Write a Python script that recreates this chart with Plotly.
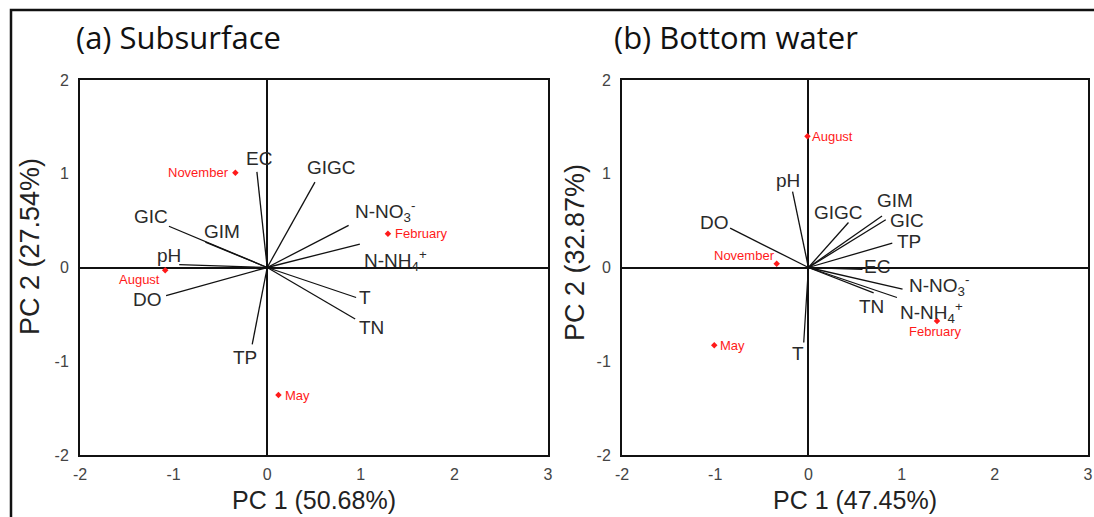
import plotly.graph_objects as go

# ---------------- data ----------------
# (a) Subsurface: loadings of variables
vars_a = ["EC", "GIC", "GIM", "pH", "DO", "GIGC", "N-NO<sub>3</sub><sup>-</sup>",
          "N-NH<sub>4</sub><sup>+</sup>", "T", "TN", "TP"]
pc1_a = [-0.11, -1.05, -0.66, -0.94, -1.08, 0.51, 0.87, 0.99, 0.95, 0.94, -0.16]
pc2_a = [1.02, 0.44, 0.27, 0.03, -0.30, 0.91, 0.45, 0.25, -0.32, -0.55, -0.82]

# (a) sample scores
months_a = ["November", "February", "August", "May"]
s1_a = [-0.34, 1.29, -1.09, 0.12]
s2_a = [1.01, 0.36, -0.03, -1.36]

# (b) Bottom water: loadings of variables
vars_b = ["pH", "DO", "GIGC", "GIM", "GIC", "TP", "EC", "N-NO<sub>3</sub><sup>-</sup>",
          "N-NH<sub>4</sub><sup>+</sup>", "TN", "T"]
pc1_b = [-0.17, -0.84, 0.43, 0.79, 0.83, 0.90, 0.58, 1.01, 0.95, 0.70, -0.05]
pc2_b = [0.81, 0.42, 0.48, 0.55, 0.51, 0.26, -0.02, -0.23, -0.32, -0.27, -0.80]

# (b) sample scores
months_b = ["August", "November", "May", "February"]
s1_b = [-0.01, -0.34, -1.01, 1.38]
s2_b = [1.40, 0.04, -0.83, -0.57]

x_ticks = [-2, -1, 0, 1, 2, 3]
x_ticklabels = ["-2", "-1", "0", "1", "2", "3"]
y_ticks = [-2, -1, 0, 1, 2]
y_ticklabels = ["-2", "-1", "0", "1", "2"]
titles = ["(a) Subsurface", "(b) Bottom water"]
x_titles = ["PC 1 (50.68%)", "PC 1 (47.45%)"]
y_titles = ["PC 2 (27.54%)", "PC 2 (32.87%)"]

# ---------------- label placement (pixel shifts) ----------------
var_shift_a = [(2, 13), (-18, 10), (17, 11), (-10, 9), (-19, -4), (17, 15),
               (36, 14), (36, -16), (9, 0), (16, -8), (-7, -13)]
var_shift_b = [(-5, 11), (-16, 6), (-10, 10), (13, 15), (21, -1), (17, 2),
               (15, 3), (36, 4), (35, -15), (-2, -14), (-6, -11)]
# (xanchor, xshift, yshift)
smp_shift_a = [("right", -4, 0), ("left", 5, 0), ("center", -26, -9), ("left", 5, 0)]
smp_shift_b = [("left", 3, 0), ("right", 0, 8), ("left", 4, 0), ("center", -2, -11)]

LABEL_FONT = "Liberation Sans, Arial, sans-serif"
RED = "#ff1a1a"
W, H = 1094, 517

fig = go.Figure()
annotations = []

panels = [
    ("x", "y", vars_a, pc1_a, pc2_a, months_a, s1_a, s2_a, var_shift_a, smp_shift_a),
    ("x2", "y2", vars_b, pc1_b, pc2_b, months_b, s1_b, s2_b, var_shift_b, smp_shift_b),
]

for xr, yr, vn, v1, v2, mn, m1, m2, vsh, msh in panels:
    lx, ly = [], []
    for a, b in zip(v1, v2):
        lx += [0, a, None]
        ly += [0, b, None]
    fig.add_trace(go.Scatter(x=lx, y=ly, mode="lines", xaxis=xr, yaxis=yr,
                             line=dict(color="#111111", width=1.3),
                             hoverinfo="skip", showlegend=False))
    fig.add_trace(go.Scatter(x=m1, y=m2, mode="markers", xaxis=xr, yaxis=yr,
                             marker=dict(color=RED, size=5, symbol="diamond"),
                             showlegend=False))
    for name, a, b, (dx, dy) in zip(vn, v1, v2, vsh):
        annotations.append(dict(x=a, y=b, xref=xr, yref=yr, text=name, showarrow=False,
                                xshift=dx, yshift=dy,
                                font=dict(family=LABEL_FONT, size=19, color="#2a2a2a")))
    for name, a, b, (anc, dx, dy) in zip(mn, m1, m2, msh):
        annotations.append(dict(x=a, y=b, xref=xr, yref=yr, text=name, showarrow=False,
                                xanchor=anc, xshift=dx, yshift=dy,
                                font=dict(family=LABEL_FONT, size=13, color=RED)))

dom_x = [[80 / W, 548 / W], [622 / W, 1088 / W]]
dom_y = [1 - 455 / H, 1 - 80 / H]

# panel titles
for t, tx in zip(titles, [74, 612]):
    annotations.append(dict(x=tx / W, y=1 - 37 / H, xref="paper", yref="paper",
                            text=t, showarrow=False, xanchor="left", yanchor="middle",
                            font=dict(family="Open Sans, Noto Sans, sans-serif", size=31,
                                      color="#111111")))
# axis titles
for t, cx in zip(x_titles, [314, 855]):
    annotations.append(dict(x=cx / W, y=1 - 500 / H, xref="paper", yref="paper",
                            text=t, showarrow=False, xanchor="center", yanchor="middle",
                            font=dict(family=LABEL_FONT, size=25, color="#222222")))
for t, cx, cy in zip(y_titles, [30, 575], [247, 253]):
    annotations.append(dict(x=cx / W, y=1 - cy / H, xref="paper", yref="paper",
                            text=t, showarrow=False, xanchor="center", yanchor="middle",
                            textangle=-90,
                            font=dict(family=LABEL_FONT, size=27, color="#222222")))

axis_common = dict(showgrid=False, zeroline=True, zerolinecolor="#111111", zerolinewidth=1.5,
                   showline=True, linecolor="#111111", linewidth=2, mirror=True,
                   ticks="", automargin=False,
                   tickfont=dict(family=LABEL_FONT, size=16, color="#444444"))

layout = dict(width=W, height=H, margin=dict(l=0, r=0, t=0, b=0, pad=0, autoexpand=False),
              paper_bgcolor="white", plot_bgcolor="white", annotations=annotations,
              showlegend=False,
              shapes=[dict(type="rect", xref="paper", yref="paper",
                           x0=11 / W, x1=1.2, y0=-0.2, y1=1 - 10 / H,
                           line=dict(color="#111111", width=2.5))])

for i in range(2):
    sx = "" if i == 0 else "2"
    layout["xaxis" + sx] = dict(axis_common, domain=dom_x[i], range=[-2, 3],
                                tickvals=x_ticks, ticktext=x_ticklabels, anchor="y" + sx,
                                ticklabelstandoff=4)
    layout["yaxis" + sx] = dict(axis_common, domain=dom_y, range=[-2, 2],
                                tickvals=y_ticks, ticktext=y_ticklabels, anchor="x" + sx,
                                ticklabelstandoff=6)

fig.update_layout(**layout)
fig.write_html("out.html", config={"displayModeBar": False},
               post_script="document.body.style.margin='0px';")
